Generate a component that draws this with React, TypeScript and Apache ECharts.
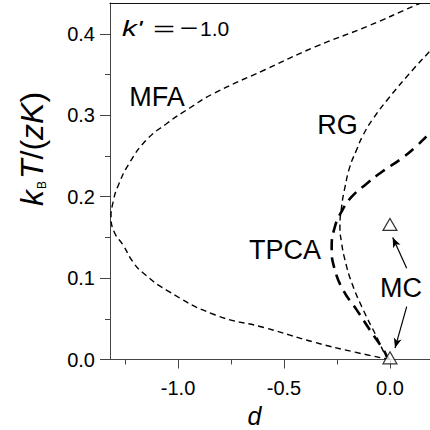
import React, { useEffect, useRef } from 'react';
import * as echarts from 'echarts';

// ---- data ----
const mfaD = [0, -0.165, -0.354, -0.59, -0.827, -1.053, -1.167, -1.213, -1.26, -1.3, -1.316, -1.305, -1.285, -1.228, -1.148, -1.053, -0.945, -0.831, -0.59, -0.354, -0.1, 0.118, 0.22];
const mfaT = [0, 0.009, 0.021, 0.039, 0.055, 0.085, 0.107, 0.12, 0.141, 0.156, 0.174, 0.195, 0.212, 0.242, 0.27, 0.29, 0.309, 0.327, 0.356, 0.384, 0.41, 0.435, 0.446];

const rgD = [0, -0.016, -0.063, -0.126, -0.18, -0.212, -0.228, -0.236, -0.228, -0.212, -0.189, -0.16, -0.126, -0.079, 0, 0.108, 0.189, 0.22];
const rgT = [0, 0.003, 0.028, 0.061, 0.094, 0.122, 0.143, 0.163, 0.188, 0.212, 0.237, 0.256, 0.276, 0.296, 0.323, 0.356, 0.379, 0.388];

const tpcaD = [0, -0.008, -0.031, -0.094, -0.157, -0.22, -0.262, -0.275, -0.262, -0.228, -0.18, -0.11, -0.03, 0.05, 0.12, 0.189, 0.22];
const tpcaT = [0, 0.001, 0.012, 0.036, 0.061, 0.085, 0.112, 0.137, 0.161, 0.182, 0.2, 0.216, 0.232, 0.246, 0.261, 0.278, 0.284];

const mcD = [0, 0];
const mcT = [0.166, 0.002];

const xMajorTicks = [-1.0, -0.5, 0.0];
const xMinorTicks = [-1.25, -0.75, -0.25];
const yMajorTicks = [0.0, 0.1, 0.2, 0.3, 0.4];
const yMinorTicks = [0.05, 0.15, 0.25, 0.35];

const X_MIN = -1.321;
const X_MAX = 0.189;
const Y_MIN = 0;
const Y_MAX = 0.438;

const FONT = "'Liberation Sans', Arial, Helvetica, sans-serif";
const AXIS_COLOR = '#444';

const zip = (a: number[], b: number[]) => a.map((v, i) => [v, b[i]]);

// smooth cubic path through pixel points (tangent = next - prev, split by segment lengths)
function smoothPath(pts: number[][], s: number) {
  const n = pts.length;
  const cpIn: number[][] = [];
  const cpOut: number[][] = [];
  for (let i = 0; i < n; i++) {
    const p = pts[i];
    if (i === 0 || i === n - 1) {
      cpIn.push(p);
      cpOut.push(p);
      continue;
    }
    const a = pts[i - 1];
    const b = pts[i + 1];
    const vx = (b[0] - a[0]) * s;
    const vy = (b[1] - a[1]) * s;
    let d0 = Math.hypot(p[0] - a[0], p[1] - a[1]);
    let d1 = Math.hypot(b[0] - p[0], b[1] - p[1]);
    const sum = d0 + d1 || 1;
    d0 /= sum;
    d1 /= sum;
    cpIn.push([p[0] - vx * d0, p[1] - vy * d0]);
    cpOut.push([p[0] + vx * d1, p[1] + vy * d1]);
  }
  let d = `M${pts[0][0]},${pts[0][1]}`;
  for (let i = 0; i < n - 1; i++) {
    const c1 = cpOut[i];
    const c2 = cpIn[i + 1];
    const q = pts[i + 1];
    d += ` C${c1[0]},${c1[1]} ${c2[0]},${c2[1]} ${q[0]},${q[1]}`;
  }
  return d;
}

const curveSeries = (name: string, d: number[], t: number[], width: number, dash: number[]) => ({
  name,
  type: 'custom',
  clip: true,
  silent: true,
  data: zip(d, t),
  encode: { x: 0, y: 1 },
  renderItem: (params: any, api: any) => {
    if (params.dataIndex !== 0) return null;
    const pts = d.map((v, i) => api.coord([v, t[i]]));
    return {
      type: 'path',
      shape: { pathData: smoothPath(pts, 0.5) },
      style: { fill: 'none', stroke: '#000', lineWidth: width, lineDash: dash },
      silent: true,
    };
  },
});

export default function App() {
  const ref = useRef<HTMLDivElement>(null);

  useEffect(() => {
    document.body.style.margin = '0';
    if (!ref.current) return;
    const chart = echarts.init(ref.current, null, { renderer: 'svg' });

    const baseX = { type: 'value', min: X_MIN, max: X_MAX, splitLine: { show: false } };
    const baseY = { type: 'value', min: Y_MIN, max: Y_MAX, splitLine: { show: false } };

    const option: any = {
      animation: false,
      backgroundColor: '#fff',
      grid: { left: 110, right: 0, top: 3, bottom: 70.5, containLabel: false },
      xAxis: [
        {
          ...baseX,
          position: 'bottom',
          axisLine: { show: true, onZero: false, lineStyle: { color: AXIS_COLOR, width: 1 } },
          axisTick: { show: true, length: 9, customValues: xMajorTicks, lineStyle: { color: AXIS_COLOR } },
          axisLabel: {
            customValues: xMajorTicks,
            formatter: (v: number) => v.toFixed(1),
            margin: 18,
            fontSize: 20,
            color: '#000',
            fontFamily: FONT,
          },
        },
        {
          ...baseX,
          position: 'bottom',
          axisLine: { show: false, onZero: false },
          axisTick: { show: true, length: 5, customValues: xMinorTicks, lineStyle: { color: AXIS_COLOR } },
          axisLabel: { show: false },
        },
        {
          ...baseX,
          position: 'top',
          axisLine: { show: true, onZero: false, lineStyle: { color: '#111', width: 1.2 } },
          axisTick: { show: false },
          axisLabel: { show: false },
        },
      ],
      yAxis: [
        {
          ...baseY,
          position: 'left',
          axisLine: { show: true, onZero: false, lineStyle: { color: AXIS_COLOR, width: 1 } },
          axisTick: { show: true, length: 10, customValues: yMajorTicks, lineStyle: { color: AXIS_COLOR } },
          axisLabel: {
            customValues: yMajorTicks,
            formatter: (v: number) => v.toFixed(1),
            margin: 15,
            fontSize: 20,
            color: '#000',
            fontFamily: FONT,
          },
        },
        {
          ...baseY,
          position: 'left',
          axisLine: { show: false, onZero: false },
          axisTick: { show: true, length: 5, customValues: yMinorTicks, lineStyle: { color: AXIS_COLOR } },
          axisLabel: { show: false },
        },
      ],
      series: [
        curveSeries('MFA', mfaD, mfaT, 1.4, [6, 4]),
        curveSeries('RG', rgD, rgT, 1.4, [6, 4]),
        curveSeries('TPCA', tpcaD, tpcaT, 2.6, [11, 7]),
        {
          name: 'MC',
          type: 'scatter',
          data: zip(mcD, mcT),
          symbol: 'triangle',
          symbolSize: [14, 12],
          clip: false,
          z: 5,
          itemStyle: { color: '#fff', borderColor: '#000', borderWidth: 1.2 },
          silent: true,
          markLine: {
            silent: true,
            symbol: ['none', 'arrow'],
            symbolSize: [6, 10],
            label: { show: false },
            lineStyle: { color: '#000', width: 1.2, type: 'solid' },
            emphasis: { disabled: true },
            data: [
              [{ coord: [0.079, 0.112] }, { coord: [0.013, 0.15] }],
              [{ coord: [0.079, 0.065] }, { coord: [0.024, 0.014] }],
            ],
          },
        },
      ],
      graphic: [
        // k' = -1.0
        { type: 'text', x: 122, y: 28, scaleX: 1.35, style: { text: "k'", fontSize: 22, fontStyle: 'italic', fontFamily: FONT, fill: '#000', align: 'left', verticalAlign: 'middle' } },
        { type: 'text', x: 164, y: 28, scaleX: 1.8, style: { text: '=', fontSize: 21, fontFamily: FONT, fill: '#000', align: 'center', verticalAlign: 'middle' } },
        { type: 'text', x: 189, y: 28, scaleX: 1.5, style: { text: '\u2212', fontSize: 21, fontFamily: FONT, fill: '#000', align: 'center', verticalAlign: 'middle' } },
        { type: 'text', x: 200, y: 28, style: { text: '1.0', fontSize: 21, fontFamily: FONT, fill: '#000', align: 'left', verticalAlign: 'middle' } },
        // curve labels
        { type: 'text', x: 157, y: 97, style: { text: 'MFA', fontSize: 27, fontFamily: FONT, fill: '#000', align: 'center', verticalAlign: 'middle' } },
        { type: 'text', x: 337.5, y: 125, style: { text: 'RG', fontSize: 27, fontFamily: FONT, fill: '#000', align: 'center', verticalAlign: 'middle' } },
        { type: 'text', x: 285, y: 250, style: { text: 'TPCA', fontSize: 27, fontFamily: FONT, fill: '#000', align: 'center', verticalAlign: 'middle' } },
        { type: 'text', x: 401, y: 288, style: { text: 'MC', fontSize: 27, fontFamily: FONT, fill: '#000', align: 'center', verticalAlign: 'middle' } },
        // x axis title
        { type: 'text', x: 254.5, y: 416, style: { text: 'd', fontSize: 25, fontStyle: 'italic', fontFamily: FONT, fill: '#000', align: 'center', verticalAlign: 'middle' } },
        // y axis title
        {
          type: 'text',
          x: 32,
          y: 149,
          rotation: Math.PI / 2,
          style: {
            text: '{i|k}{s|B}{i|T}{n|/(}{i|zK}{n|)}',
            align: 'center',
            verticalAlign: 'middle',
            fill: '#000',
            rich: {
              i: { fontStyle: 'italic', fontSize: 32, fontFamily: FONT, fill: '#000' },
              s: { fontSize: 12, fontFamily: FONT, fill: '#000', verticalAlign: 'bottom', padding: [0, 2, 0, 1] },
              n: { fontSize: 32, fontFamily: FONT, fill: '#000' },
            },
          },
        },
      ],
    };

    chart.setOption(option);
    return () => chart.dispose();
  }, []);

  return <div ref={ref} style={{ width: 430, height: 430 }} />;
}
